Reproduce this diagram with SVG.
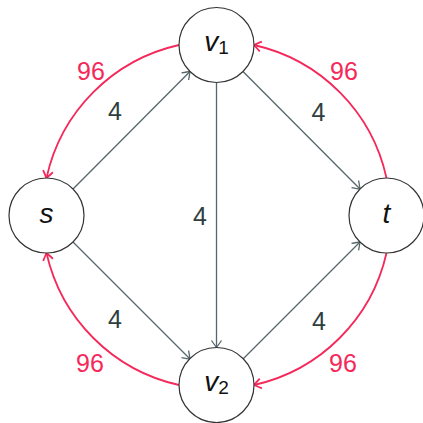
<svg xmlns="http://www.w3.org/2000/svg" width="423" height="423" viewBox="0 0 423 423">
<style>
.node circle{fill:#fff;stroke:#333;stroke-width:1.2}
.nl{font-family:"Liberation Sans",Arial,sans-serif;font-style:italic;font-size:28px;fill:#111;text-anchor:middle}
.sub{font-size:19px;font-style:normal}
.g{stroke:#56666a;stroke-width:1.3;fill:none;marker-end:url(#ag)}
.r{stroke:#f5285a;stroke-width:1.8;fill:none;marker-end:url(#ar)}
.w4{font-family:"Liberation Sans",Arial,sans-serif;font-size:25px;fill:#2f3e3e;text-anchor:middle}
.w96{font-family:"Liberation Sans",Arial,sans-serif;font-size:25px;fill:#f5285a;text-anchor:middle}
</style>
<defs>
<marker id="ag" markerUnits="userSpaceOnUse" markerWidth="14" markerHeight="14" refX="0" refY="0" viewBox="-8 -7 10 14" orient="auto">
<path d="M-7,-5 Q-2,-1.5 0,0 Q-2,1.5 -7,5" fill="none" stroke="#56666a" stroke-width="1.3"/>
</marker>
<marker id="ar" markerUnits="userSpaceOnUse" markerWidth="14" markerHeight="14" refX="0" refY="0" viewBox="-8 -7 10 14" orient="auto">
<path d="M-7,-5 Q-2,-1.5 0,0 Q-2,1.5 -7,5" fill="none" stroke="#f5285a" stroke-width="1.8"/>
</marker>
</defs>
<g id="edges">
<line class="g" x1="73" y1="189" x2="190" y2="71.5"/>
<line class="g" x1="73" y1="242" x2="190" y2="359"/>
<line class="g" x1="243" y1="71.5" x2="360" y2="189"/>
<line class="g" x1="243" y1="359" x2="360" y2="242"/>
<line class="g" x1="216.5" y1="82.5" x2="216.5" y2="347.5"/>
<path class="r" d="M179,45 A174.6,174.6 0 0 0 46.5,178"/>
<path class="r" d="M179,385 A174.6,174.6 0 0 1 46.5,253"/>
<path class="r" d="M386.5,178 A174.6,174.6 0 0 0 254,45"/>
<path class="r" d="M386.5,253 A174.6,174.6 0 0 1 254,385"/>
<text class="w4" x="115" y="120">4</text>
<text class="w4" x="318.5" y="121">4</text>
<text class="w4" x="200" y="225">4</text>
<text class="w4" x="115" y="328">4</text>
<text class="w4" x="319" y="330">4</text>
<text class="w96" x="91" y="80">96</text>
<text class="w96" x="344" y="80">96</text>
<text class="w96" x="90" y="372">96</text>
<text class="w96" x="343" y="372">96</text>
</g>
<g id="v1" class="node"><circle cx="216.5" cy="45" r="37.5"/><text class="nl" x="216.5" y="51">v<tspan class="sub" dy="3">1</tspan></text></g>
<g id="s" class="node"><circle cx="46.5" cy="215.5" r="37.5"/><text class="nl" x="46.5" y="223">s</text></g>
<g id="t" class="node"><circle cx="386.5" cy="215.5" r="37.5"/><text class="nl" x="386.5" y="223">t</text></g>
<g id="v2" class="node"><circle cx="216.5" cy="385" r="37.5"/><text class="nl" x="216.5" y="391">v<tspan class="sub" dy="3">2</tspan></text></g>
</svg>
